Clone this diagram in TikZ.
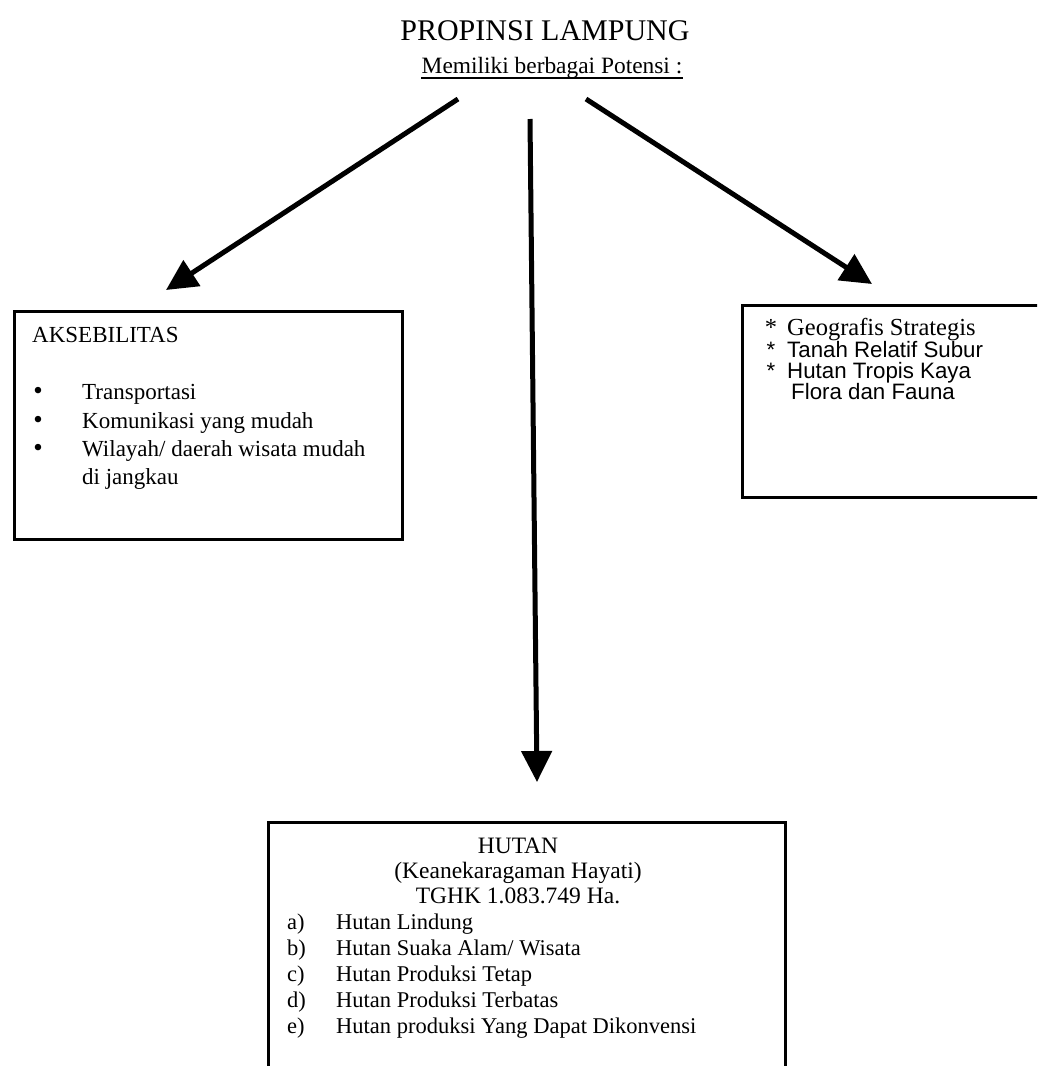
\documentclass[tikz,border=0pt]{standalone}
\usepackage{fontspec}
\setmainfont{Liberation Serif}
\newfontfamily\arialf{Liberation Sans}
\usetikzlibrary{arrows.meta}
\begin{document}
\begin{tikzpicture}[x=1pt,y=-1pt,
  boxshape/.style={draw, line width=3pt, rectangle, inner sep=0pt, anchor=north west},
  conn/.style={line width=5pt, -{Triangle[length=31pt,width=30pt]}},
  lt/.style={inner sep=0pt, anchor=base west, font=\fontsize{23}{28}\selectfont},
  ctr/.style={inner sep=0pt, anchor=base, font=\fontsize{23.5}{28}\selectfont},
  ht/.style={inner sep=0pt, anchor=base west, font=\fontsize{22.5}{27}\selectfont},
  rs/.style={inner sep=0pt, anchor=base west, font=\arialf\fontsize{22.3}{24}\selectfont},
  bul/.style={inner sep=0pt, anchor=base, font=\fontsize{27}{28}\selectfont}
]
\useasboundingbox (0,0) rectangle (1037,1066);
\fill[white] (0,0) rectangle (1037,1066);
\clip (0,0) rectangle (1037,1066);

% title
\node[inner sep=0pt, anchor=base, font=\fontsize{30}{36}\selectfont] (title) at (545,40) {PROPINSI LAMPUNG};
\node[inner sep=0pt, anchor=base, font=\fontsize{23.4}{28}\selectfont] (sub) at (552,73) {Memiliki berbagai Potensi :};
\draw[line width=1.8pt] ([yshift=-5pt]sub.base west) -- ([yshift=-5pt]sub.base east);

% boxes
\node[boxshape, minimum width=388pt, minimum height=228pt] (akses) at (13,310) {};
\node[boxshape, minimum width=320pt, minimum height=192pt] (potensi) at (741,304) {};
\node[boxshape, minimum width=517pt, minimum height=270pt] (hutan) at (267,821) {};

% arrows
\coordinate (lstart) at (458,99);
\coordinate (ltip) at (166,290);
\coordinate (cstart) at (530,119);
\coordinate (ctip) at (537,782);
\coordinate (rstart) at (586,99);
\coordinate (rtip) at (872,284);
\draw[conn] (lstart) -- (ltip);
\draw[conn] (cstart) -- (ctip);
\draw[conn] (rstart) -- (rtip);

% left box text
\node[lt] (aks) at (32,342) {AKSEBILITAS};
\node[bul] (b1) at (38,399) {\textbullet};
\node[bul] (b2) at (38,428) {\textbullet};
\node[bul] (b3) at (38,456) {\textbullet};
\node[lt] (i1) at (82,399) {Transportasi};
\node[lt] (i2) at (82,428) {Komunikasi yang mudah};
\node[lt] (i3) at (82,456) {Wilayah/ daerah wisata mudah};
\node[lt] (i4) at (82,484) {di jangkau};

% right box text
\node[inner sep=0pt, anchor=base, font=\fontsize{24.5}{26}\selectfont] (s1) at (771,335) {*};
\node[inner sep=0pt, anchor=base west, font=\fontsize{24.5}{26}\selectfont] (r1) at (787,335) {Geografis Strategis};
\node[inner sep=0pt, anchor=base, font=\arialf\fontsize{22.3}{24}\selectfont] (s2) at (771,357) {*};
\node[rs] (r2) at (787,357) {Tanah Relatif Subur};
\node[inner sep=0pt, anchor=base, font=\arialf\fontsize{22.3}{24}\selectfont] (s3) at (771,378) {*};
\node[rs] (r3) at (787,378) {Hutan Tropis Kaya};
\node[rs] (r4) at (791,399) {Flora dan Fauna};

% hutan box text
\node[ctr] (h1) at (518,853) {HUTAN};
\node[ctr] (h2) at (518,878) {(Keanekaragaman Hayati)};
\node[ctr] (h3) at (518,903) {TGHK 1.083.749 Ha.};
\node[ht] (la) at (287,929) {a)};
\node[ht] (lb) at (287,955) {b)};
\node[ht] (lc) at (287,981) {c)};
\node[ht] (ld) at (287,1007) {d)};
\node[ht] (le) at (287,1033) {e)};
\node[ht] (ta) at (336,929) {Hutan Lindung};
\node[ht] (tb) at (336,955) {Hutan Suaka Alam/ Wisata};
\node[ht] (tc) at (336,981) {Hutan Produksi Tetap};
\node[ht] (td) at (336,1007) {Hutan Produksi Terbatas};
\node[ht] (te) at (336,1033) {Hutan produksi Yang Dapat Dikonvensi};
\end{tikzpicture}
\end{document}
